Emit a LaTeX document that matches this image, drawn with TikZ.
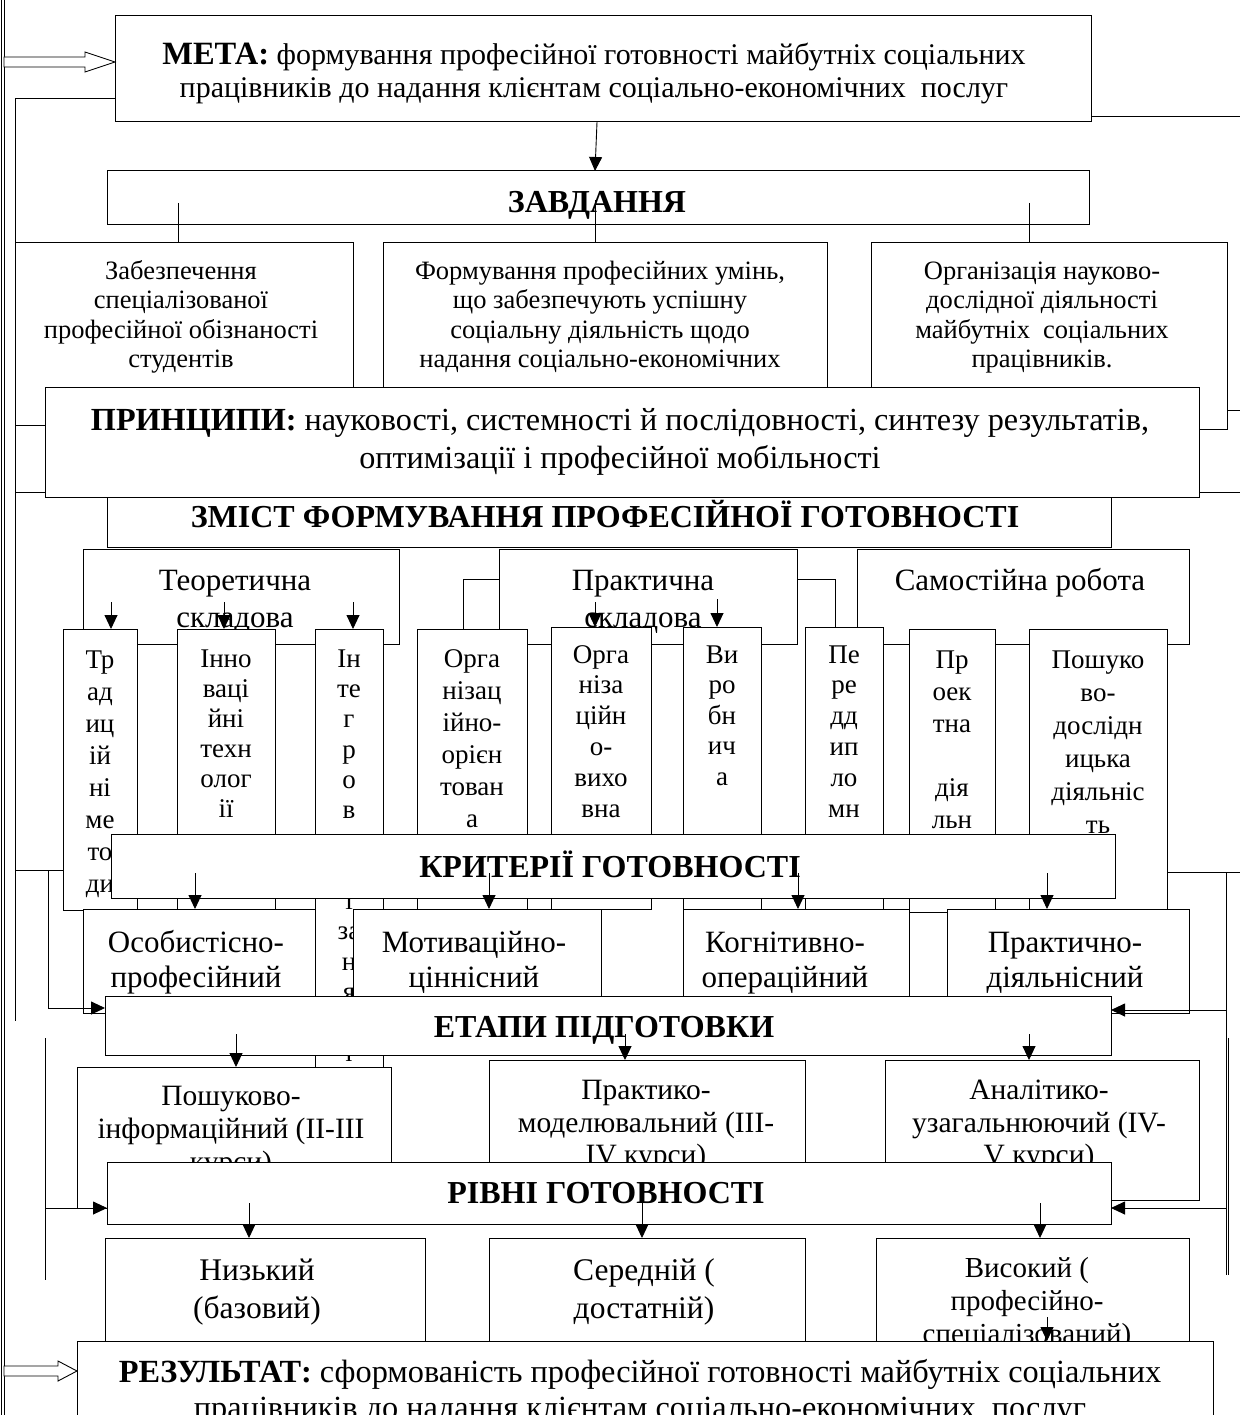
\documentclass[tikz,border=0pt]{standalone}
\usepackage{fontspec}
\setmainfont{Liberation Serif}[BoldFont={Liberation Serif Bold}]
\usetikzlibrary{fit,arrows.meta}
\tikzset{
  bx/.style={draw, fill=white, line width=1pt, inner sep=0pt, outer sep=0pt},
  ln/.style={line width=0.9pt},
  arr/.style={line width=0.9pt, -{Triangle[length=14pt,width=13pt]}},
  tx/.style={align=center, inner sep=0pt, anchor=north},
  hd/.style={inner sep=0pt, anchor=base, font=\fontsize{32}{37}\selectfont\bfseries},
}
\newcommand\fsz[2]{\fontsize{#1}{#2}\selectfont}
\newcommand\bxx[5]{\node[bx, fit={(#2,#3) (#4,#5)}] (#1) {};}
\begin{document}
\begin{tikzpicture}[x=1pt,y=-1pt]
\useasboundingbox (0,0) rectangle (1240,1415);
\clip (0,0) rectangle (1240,1415);
\fill[white] (0,0) rectangle (1240,1415);

% ---------- long side lines ----------
\draw[ln] (1.5,0) -- (1.5,1415);
\draw[ln] (4,0) -- (4,1415);

% ---------- МЕТА ----------
\bxx{meta}{115}{16}{1091}{122}
\node[tx, font=\fsz{30}{33.5}] (tmeta) at (594,40.5) {\strut{\fsz{32.5}{33.5}\bfseries МЕТА:} формування професійної готовності майбутніх соціальних\\працівників до надання клієнтам соціально-економічних\ \ послуг};
\coordinate (mL) at (115,98);
\coordinate (mLd) at (15,98);
\coordinate (mLe) at (15,1021);
\draw[ln] (mL) -- (mLd) -- (mLe);
\coordinate (mR) at (1091,116);
\coordinate (mRe) at (1240,116);
\draw[ln] (mR) -- (mRe);
\draw[ln, fill=white] (4,57) -- (85,57) -- (85,52) -- (115,62) -- (85,72) -- (85,67) -- (4,67) -- cycle;

% ---------- ЗАВДАННЯ ----------
\bxx{zavd}{107}{171}{1089}{225}
\draw[arr] (597,122) -- (595,171);
\node[hd] (tzavd) at (597,213) {ЗАВДАННЯ};

% tasks
\bxx{task1}{15}{243}{353}{425}
\bxx{task2}{383}{243}{827}{440}
\bxx{task3}{871}{243}{1227}{429}
\coordinate (z1) at (178,203);
\coordinate (z2) at (595,200);
\coordinate (z3) at (1029,203);
\draw[ln] (z1) -- (z1 |- task1.north);
\draw[ln] (z2) -- (z2 |- task2.north);
\draw[ln] (z3) -- (z3 |- task3.north);
\node[tx, font=\fsz{26.5}{29.5}] (tt1) at (181,258.3) {\strut Забезпечення\\спеціалізованої\\професійної обізнаності\\студентів};
\node[tx, font=\fsz{26.5}{29.5}] (tt2) at (600,258.3) {\strut Формування професійних умінь,\\що забезпечують успішну\\соціальну діяльність щодо\\надання соціально-економічних};
\node[tx, font=\fsz{26.5}{29.5}] (tt3) at (1042,258.3) {\strut Організація науково-\\дослідної діяльності\\майбутніх\ \ соціальних\\працівників.};
\coordinate (r410) at (1240,410);
\draw[ln] (task3.east |- r410) -- (r410);

% ЗМІСТ (under ПРИНЦИПИ)
\bxx{zmist}{107}{460}{1111}{547}
\coordinate (l492) at (15,492);
\coordinate (r492) at (1240,492);
\draw[ln] (l492) -- (zmist.west |- l492);
\draw[ln] (zmist.east |- r492) -- (r492);
\node[hd] (tzmist) at (605,527) {ЗМІСТ ФОРМУВАННЯ ПРОФЕСІЙНОЇ ГОТОВНОСТІ};

% ПРИНЦИПИ
\bxx{pryn}{45}{387}{1199}{497}
\node[tx, font=\fsz{32.2}{38}] (tpryn) at (620,403.4) {\strut\textbf{ПРИНЦИПИ:} науковості, системності й послідовності, синтезу результатів,\\оптимізації і професійної мобільності};

% ---------- components ----------
\bxx{teor}{83}{549}{399}{644}
\bxx{prakt}{499}{549}{797}{644}
\bxx{samost}{857}{549}{1189}{644}
\node[tx, font=\fsz{31}{37}] (tteor) at (235,564.1) {\strut Теоретична\\складова};
\node[tx, font=\fsz{31}{37}] (tprakt) at (643,564.1) {\strut Практична\\складова};
\node[tx, font=\fsz{31}{37}] (tsamost) at (1020,564.1) {\strut Самостійна робота};

% sub boxes
\bxx{s1}{63}{629}{137}{910}
\bxx{s2}{177}{629}{275}{960}
\bxx{s3}{315}{629}{383}{1070}
\bxx{s4}{417}{629}{527}{960}
\bxx{s5}{551}{627}{651}{909}
\bxx{s6}{683}{627}{761}{960}
\bxx{s7}{805}{627}{883}{960}
\bxx{s8}{909}{629}{995}{912}
\bxx{s9}{1029}{629}{1167}{960}

\node[tx, font=\fsz{27}{32}] (ts1) at (100,645.6) {\strut Тр\\ад\\иц\\ій\\ні\\ме\\то\\ди};
\node[tx, font=\fsz{27}{30}] (ts2) at (226,646) {\strut Інно\\ваці\\йні\\техн\\олог\\ії};
\node[tx, font=\fsz{27}{30.3}] (ts3) at (349,645.8) {\strut Ін\\те\\г\\р\\о\\в\\а\\н\\і\\за\\н\\я\\т\\т\\я};
\node[tx, font=\fsz{27}{32}] (ts4) at (472,644.6) {\strut Орга\\нізац\\ійно-\\орієн\\тован\\а};
\node[tx, font=\fsz{27}{30.8}] (ts5) at (601,641.4) {\strut Орга\\ніза\\ційн\\о-\\вихо\\вна};
\node[tx, font=\fsz{27}{30.5}] (ts6) at (722,641.7) {\strut Ви\\ро\\бн\\ич\\а};
\node[tx, font=\fsz{27}{30.8}] (ts7) at (844,641.4) {\strut Пе\\ре\\дд\\ип\\ло\\мн\\а};
\node[tx, font=\fsz{27}{32}] (ts8) at (952,645.6) {\strut Пр\\оек\\тна\\\strut\\дія\\льн};
\node[tx, font=\fsz{27}{33}] (ts9) at (1098,644.9) {\strut Пошуко\\во-\\дослідн\\ицька\\діяльніс\\ть};

% connectors from Практична
\coordinate (pk1) at (463,579);
\coordinate (pk2) at (835,579);
\draw[ln] (prakt.west |- pk1) -- (pk1) -- (pk1 |- s4.north);
\draw[ln] (prakt.east |- pk2) -- (pk2) -- (pk2 |- s7.north);
% arrows into sub boxes
\coordinate (a1) at (111,602);
\coordinate (a2) at (224,602);
\coordinate (a3) at (353,602);
\coordinate (a4) at (595,602);
\coordinate (a5) at (717,599);
\draw[arr] (a1) -- (a1 |- s1.north);
\draw[arr] (a2) -- (a2 |- s2.north);
\draw[arr] (a3) -- (a3 |- s3.north);
\draw[arr] (a4) -- (a4 |- s5.north);
\draw[arr] (a5) -- (a5 |- s6.north);

% left / right lines near sub boxes
\coordinate (l870) at (15,870);
\draw[ln] (l870) -- (s1.west |- l870);
\coordinate (r872) at (1240,872);
\draw[ln] (s9.east |- r872) -- (r872);

% ---------- КРИТЕРІЇ ----------
\bxx{krit}{111}{834}{1115}{898}
\node[hd] (tkrit) at (610,877) {КРИТЕРІЇ ГОТОВНОСТІ};
\bxx{c1}{83}{909}{315}{1013}
\bxx{c2}{353}{909}{601}{1013}
\bxx{c3}{683}{909}{909}{1013}
\bxx{c4}{947}{909}{1189}{1013}
\coordinate (k1) at (195,873);
\coordinate (k2) at (489,873);
\coordinate (k3) at (798,873);
\coordinate (k4) at (1047,873);
\draw[arr] (k1) -- (k1 |- c1.north);
\draw[arr] (k2) -- (k2 |- c2.north);
\draw[arr] (k3) -- (k3 |- c3.north);
\draw[arr] (k4) -- (k4 |- c4.north);
\node[tx, font=\fsz{31}{35}] (tc1) at (196,927.5) {\strut Особистісно-\\професійний};
\node[tx, font=\fsz{31}{35}] (tc2) at (474,927.5) {\strut Мотиваційно-\\ціннісний};
\node[tx, font=\fsz{31}{35}] (tc3) at (785,927.5) {\strut Когнітивно-\\операційний};
\node[tx, font=\fsz{31}{35}] (tc4) at (1065,927.5) {\strut Практично-\\діяльнісний};

% ---------- ЕТАПИ ----------
\bxx{etapy}{105}{996}{1111}{1055}
\node[hd] (tetapy) at (604,1037) {ЕТАПИ ПІДГОТОВКИ};
\coordinate (lv1) at (48,870);
\coordinate (lv1b) at (48,1008);
\draw[arr] (lv1) -- (lv1b) -- (etapy.west |- lv1b);
\coordinate (rv1) at (1226,872);
\coordinate (rv1b) at (1226,1275);
\coordinate (rv1c) at (1226,1010);
\draw[ln] (rv1) -- (rv1b);
\draw[ln] (1228.5,1038) -- (1228.5,1275);
\draw[arr] (rv1c) -- (etapy.east |- rv1c);

\bxx{e1}{77}{1067}{391}{1208}
\bxx{e2}{489}{1060}{805}{1200}
\bxx{e3}{885}{1060}{1199}{1200}
\coordinate (et1) at (236,1034);
\coordinate (et2) at (625,1034);
\coordinate (et3) at (1029,1034);
\draw[arr] (et1) -- (et1 |- e1.north);
\draw[arr] (et2) -- (et2 |- e2.north);
\draw[arr] (et3) -- (et3 |- e3.north);
\node[tx, font=\fsz{29.5}{33}] (te1) at (231,1081.9) {\strut Пошуково-\\інформаційний (II-III\\курси)};
\node[tx, font=\fsz{29.5}{32.5}] (te2) at (646,1077) {\strut Практико-\\моделювальний (III-\\IV курси)};
\node[tx, font=\fsz{29.5}{32.5}] (te3) at (1039,1077) {\strut Аналітико-\\узагальнюючий (IV-\\V курси)};

% ---------- РІВНІ ----------
\bxx{rivni}{107}{1162}{1111}{1224}
\node[hd] (trivni) at (606,1203) {РІВНІ ГОТОВНОСТІ};
\coordinate (lv2) at (45,1038);
\coordinate (lv2b) at (45,1280);
\coordinate (lv2c) at (45,1208);
\draw[ln] (lv2) -- (lv2b);
\draw[arr] (lv2c) -- (rivni.west |- lv2c);
\coordinate (rv2c) at (1226,1208);
\draw[arr] (rv2c) -- (rivni.east |- rv2c);

\bxx{lv1box}{105}{1238}{425}{1360}
\bxx{lv2box}{489}{1238}{805}{1360}
\bxx{lv3box}{876}{1238}{1189}{1360}
\coordinate (rv1t) at (249,1203);
\coordinate (rv2t) at (642,1203);
\coordinate (rv3t) at (1040,1203);
\draw[arr] (rv1t) -- (rv1t |- lv1box.north);
\draw[arr] (rv2t) -- (rv2t |- lv2box.north);
\draw[arr] (rv3t) -- (rv3t |- lv3box.north);
\node[tx, font=\fsz{31.5}{38}] (tl1) at (257,1253.4) {\strut Низький\\(базовий)};
\node[tx, font=\fsz{31.5}{38}] (tl2) at (644,1253.4) {\strut Середній (\\достатній)};
\node[tx, font=\fsz{29}{33}] (tl3) at (1027,1254) {\strut Високий (\\професійно-\\спеціалізований)};

% ---------- РЕЗУЛЬТАТ ----------
\bxx{rez}{77}{1341}{1213}{1450}
\node[tx, font=\fsz{32.3}{36}] (trez) at (640,1357) {\strut\textbf{РЕЗУЛЬТАТ:} сформованість професійної готовності майбутніх соціальних\\працівників до надання клієнтам соціально-економічних\ \ послуг};
\coordinate (vs) at (1047,1317);
\draw[arr] (vs) -- (vs |- rez.north);
\draw[ln, fill=white] (4,1366) -- (58,1366) -- (58,1361) -- (77,1371) -- (58,1381) -- (58,1376) -- (4,1376) -- cycle;
\end{tikzpicture}
\end{document}
